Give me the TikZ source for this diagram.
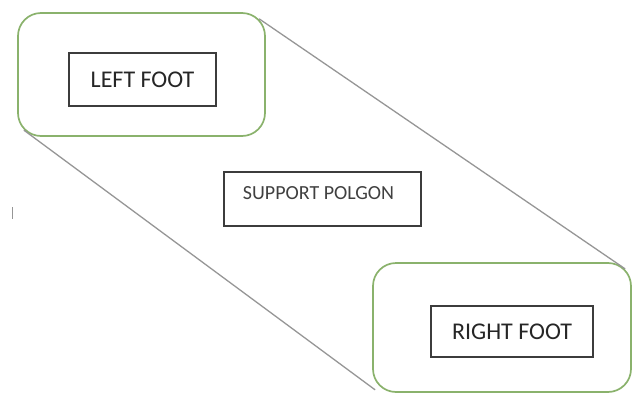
\documentclass[tikz,border=0pt]{standalone}
\usepackage{fontspec}
\setmainfont{Carlito}
\usetikzlibrary{positioning,calc}
\definecolor{footgreen}{RGB}{138,178,108}
\definecolor{edgegray}{RGB}{150,150,150}
\definecolor{boxgray}{RGB}{60,60,60}

\begin{document}
\begin{tikzpicture}[x=1pt,y=-1pt,
		footarea/.style={draw=footgreen, line width=1.7pt, rounded corners=23pt, fill=white},
		footbox/.style={draw=boxgray, line width=1.1pt, inner sep=0pt, font=\fontsize{24}{28}\selectfont, text=black!85},
		hull/.style={draw=edgegray, line width=1.3pt}]
				\useasboundingbox (0,0) rectangle (633,394);
				% foot areas
				\node[footarea, minimum width=247, minimum height=123] (leftarea) at (141.5, 74.5) {};
				\node[footarea, minimum width=258, minimum height=129] (rightarea) at (502, 327.5) {};
				% labels
				\node[footbox, minimum width=147, minimum height=53] (left) at (142.5, 79.5) {LEFT FOOT};
				\node[footbox, minimum width=162, minimum height=51] (right) at (512, 331.5) {RIGHT FOOT};
				\node[footbox, minimum width=197, minimum height=54] (support) at (322.5, 199) {};
				\node[font=\fontsize{20}{24}\selectfont, text=black!75, inner sep=0pt] (supporttext) at (318.5, 193) {SUPPORT POLGON};
				% polygon edges
				\draw[hull] ([shift={(-6.7,6.7)}]leftarea.north east) -- ([shift={(-6.7,6.7)}]rightarea.north east);
				\draw[hull] ([shift={(6.7,-6.7)}]leftarea.south west) -- ([shift={(3,-3)}]rightarea.south west);
				\draw[edgegray, line width=0.8pt] (12.3,207) -- (12.3,219);
\end{tikzpicture}
\end{document}
